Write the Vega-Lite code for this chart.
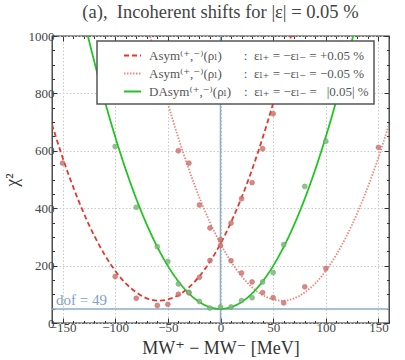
{
  "$schema": "https://vega.github.io/schema/vega-lite/v6.json",
  "width": 337,
  "height": 287,
  "autosize": "none",
  "padding": {"left": 52, "top": 36, "right": 16, "bottom": 37},
  "background": "white",
  "title": {"text": "(a),\u2002Incoherent shifts for |ε| = 0.05 %", "font": "Liberation Serif, DejaVu Serif, serif", "fontSize": 18.5, "fontWeight": "normal", "color": "#444", "anchor": "middle", "offset": 9},
  "config": {
    "font": "Liberation Serif, DejaVu Serif, serif",
    "view": {"stroke": "#333", "strokeWidth": 1.3},
    "legend": {"strokeWidth": 1.5}
  },
  "datasets": {
    "curves": [
      {"x": -160, "y": 692, "s": "A"}, {"x": -150, "y": 577, "s": "A"}, {"x": -140, "y": 475, "s": "A"}, {"x": -130, "y": 384, "s": "A"}, {"x": -120, "y": 305, "s": "A"}, {"x": -110, "y": 238, "s": "A"}, {"x": -100, "y": 182, "s": "A"}, {"x": -90, "y": 138, "s": "A"}, {"x": -80, "y": 107, "s": "A"}, {"x": -70, "y": 86, "s": "A"}, {"x": -60, "y": 78, "s": "A"}, {"x": -50, "y": 82, "s": "A"}, {"x": -40, "y": 97, "s": "A"}, {"x": -30, "y": 124, "s": "A"}, {"x": -20, "y": 163, "s": "A"}, {"x": -10, "y": 214, "s": "A"}, {"x": 0, "y": 276, "s": "A"}, {"x": 10, "y": 351, "s": "A"}, {"x": 20, "y": 437, "s": "A"}, {"x": 30, "y": 535, "s": "A"}, {"x": 40, "y": 645, "s": "A"}, {"x": 50, "y": 766, "s": "A"}, {"x": 60, "y": 900, "s": "A"}, {"x": 70, "y": 1045, "s": "A"}, {"x": 80, "y": 1202, "s": "A"},
      {"x": -80, "y": 1202, "s": "B"}, {"x": -70, "y": 1045, "s": "B"}, {"x": -60, "y": 900, "s": "B"}, {"x": -50, "y": 766, "s": "B"}, {"x": -40, "y": 645, "s": "B"}, {"x": -30, "y": 535, "s": "B"}, {"x": -20, "y": 437, "s": "B"}, {"x": -10, "y": 351, "s": "B"}, {"x": 0, "y": 276, "s": "B"}, {"x": 10, "y": 214, "s": "B"}, {"x": 20, "y": 163, "s": "B"}, {"x": 30, "y": 124, "s": "B"}, {"x": 40, "y": 97, "s": "B"}, {"x": 50, "y": 82, "s": "B"}, {"x": 60, "y": 78, "s": "B"}, {"x": 70, "y": 86, "s": "B"}, {"x": 80, "y": 107, "s": "B"}, {"x": 90, "y": 138, "s": "B"}, {"x": 100, "y": 182, "s": "B"}, {"x": 110, "y": 238, "s": "B"}, {"x": 120, "y": 305, "s": "B"}, {"x": 130, "y": 384, "s": "B"}, {"x": 140, "y": 475, "s": "B"}, {"x": 150, "y": 577, "s": "B"}, {"x": 160, "y": 692, "s": "B"},
      {"x": -140, "y": 1225, "s": "C"}, {"x": -130, "y": 1063, "s": "C"}, {"x": -120, "y": 913, "s": "C"}, {"x": -110, "y": 775, "s": "C"}, {"x": -100, "y": 649, "s": "C"}, {"x": -90, "y": 535, "s": "C"}, {"x": -80, "y": 433, "s": "C"}, {"x": -70, "y": 343, "s": "C"}, {"x": -60, "y": 265, "s": "C"}, {"x": -50, "y": 199, "s": "C"}, {"x": -40, "y": 145, "s": "C"}, {"x": -30, "y": 103, "s": "C"}, {"x": -20, "y": 73, "s": "C"}, {"x": -10, "y": 55, "s": "C"}, {"x": 0, "y": 49, "s": "C"}, {"x": 10, "y": 55, "s": "C"}, {"x": 20, "y": 73, "s": "C"}, {"x": 30, "y": 103, "s": "C"}, {"x": 40, "y": 145, "s": "C"}, {"x": 50, "y": 199, "s": "C"}, {"x": 60, "y": 265, "s": "C"}, {"x": 70, "y": 343, "s": "C"}, {"x": 80, "y": 433, "s": "C"}, {"x": 90, "y": 535, "s": "C"}, {"x": 100, "y": 649, "s": "C"}, {"x": 110, "y": 775, "s": "C"}, {"x": 120, "y": 913, "s": "C"}, {"x": 130, "y": 1063, "s": "C"}, {"x": 140, "y": 1225, "s": "C"}
    ],
    "points": [
      {"x": -150, "y": 557, "s": "A"}, {"x": -100, "y": 162, "s": "A"}, {"x": -80, "y": 86, "s": "A"}, {"x": -60, "y": 61, "s": "A"}, {"x": -50, "y": 65, "s": "A"}, {"x": -40, "y": 100, "s": "A"}, {"x": -30, "y": 105, "s": "A"}, {"x": -20, "y": 159, "s": "A"}, {"x": -10, "y": 218, "s": "A"}, {"x": 0, "y": 270, "s": "A"}, {"x": 10, "y": 348, "s": "A"}, {"x": 20, "y": 433, "s": "A"}, {"x": 30, "y": 489, "s": "A"}, {"x": 40, "y": 607, "s": "A"}, {"x": 50, "y": 729, "s": "A"},
      {"x": -40, "y": 600, "s": "B"}, {"x": -30, "y": 557, "s": "B"}, {"x": -20, "y": 411, "s": "B"}, {"x": -10, "y": 331, "s": "B"}, {"x": 0, "y": 290, "s": "B"}, {"x": 10, "y": 217, "s": "B"}, {"x": 20, "y": 174, "s": "B"}, {"x": 30, "y": 143, "s": "B"}, {"x": 40, "y": 106, "s": "B"}, {"x": 50, "y": 88, "s": "B"}, {"x": 60, "y": 70, "s": "B"}, {"x": 80, "y": 126, "s": "B"}, {"x": 100, "y": 190, "s": "B"}, {"x": 150, "y": 612, "s": "B"},
      {"x": -100, "y": 615, "s": "C"}, {"x": -80, "y": 403, "s": "C"}, {"x": -60, "y": 266, "s": "C"}, {"x": -50, "y": 214, "s": "C"}, {"x": -40, "y": 136, "s": "C"}, {"x": -30, "y": 107, "s": "C"}, {"x": -20, "y": 75, "s": "C"}, {"x": -10, "y": 52, "s": "C"}, {"x": 0, "y": 56, "s": "C"}, {"x": 10, "y": 56, "s": "C"}, {"x": 20, "y": 78, "s": "C"}, {"x": 30, "y": 88, "s": "C"}, {"x": 40, "y": 143, "s": "C"}, {"x": 50, "y": 176, "s": "C"}, {"x": 60, "y": 273, "s": "C"}, {"x": 80, "y": 476, "s": "C"}, {"x": 100, "y": 633, "s": "C"}
    ],
    "vline": [{"x": 0}],
    "hline": [{"y": 49, "x": -160, "label": "dof = 49"}]
  },
  "layer": [
    {
      "data": {"name": "vline"},
      "mark": {"type": "rule", "color": "#8aaccd", "strokeWidth": 1.5},
      "encoding": {"x": {"field": "x", "type": "quantitative", "axis": null, "scale": {"domain": [-160, 160], "nice": false}}}
    },
    {
      "data": {"name": "hline"},
      "mark": {"type": "rule", "color": "#8aaccd", "strokeWidth": 1.5},
      "encoding": {"y": {"field": "y", "type": "quantitative", "axis": null, "scale": {"domain": [0, 1000], "nice": false}}}
    },
    {
      "data": {"name": "hline"},
      "mark": {"type": "text", "color": "#7ea2c6", "fontSize": 15, "align": "left", "baseline": "bottom", "dx": 4, "dy": -1},
      "encoding": {
        "x": {"field": "x", "type": "quantitative", "axis": null},
        "y": {"field": "y", "type": "quantitative", "axis": null},
        "text": {"field": "label"}
      }
    },
    {
      "data": {"name": "curves"},
      "mark": {"type": "line", "clip": true, "interpolate": "natural", "strokeWidth": 1.8},
      "encoding": {
        "x": {
          "field": "x", "type": "quantitative",
          "axis": {
            "orient": "bottom",
            "values": [-160,-150,-140,-130,-120,-110,-100,-90,-80,-70,-60,-50,-40,-30,-20,-10,0,10,20,30,40,50,60,70,80,90,100,110,120,130,140,150,160],
            "format": "d",
            "labelExpr": "datum.value % 50 === 0 ? datum.label : ''",
            "labelOverlap": false, "labelFlush": false,
            "tickSize": {"condition": {"test": "datum.value % 50 === 0", "value": -5}, "value": -2.5},
            "tickColor": "#333",
            "domain": false,
            "grid": true, "gridColor": "#c8c8c8", "gridDash": [1.5, 2],
            "gridOpacity": {"condition": {"test": "datum.value % 50 === 0", "value": 1}, "value": 0},
            "labelFontSize": 13, "labelColor": "#444", "labelPadding": 3,
            "title": "MW⁺ − MW⁻ [MeV]", "titleFontSize": 18, "titleFontWeight": "normal", "titleColor": "#333", "titlePadding": 3
          }
        },
        "y": {
          "field": "y", "type": "quantitative",
          "axis": {
            "orient": "left",
            "values": [0,50,100,150,200,250,300,350,400,450,500,550,600,650,700,750,800,850,900,950,1000],
            "format": "d",
            "labelExpr": "datum.value % 200 === 0 ? datum.label : ''",
            "labelOverlap": false, "labelFlush": false,
            "tickSize": {"condition": {"test": "datum.value % 200 === 0", "value": -5}, "value": -2.5},
            "tickColor": "#333",
            "domain": false,
            "grid": true, "gridColor": "#c8c8c8", "gridDash": [1.5, 2],
            "gridOpacity": {"condition": {"test": "datum.value % 200 === 0", "value": 1}, "value": 0},
            "labelFontSize": 13, "labelColor": "#444", "labelPadding": 3,
            "title": "χ²", "titleFontSize": 18, "titleFontWeight": "normal", "titleColor": "#333", "titlePadding": 7
          }
        },
        "color": {
          "field": "s", "type": "nominal",
          "scale": {"domain": ["A", "B", "C"], "range": ["#e8362d", "#f2857c", "#22c422"]},
          "legend": {
            "orient": "none", "legendX": 45, "legendY": 5, "title": null,
            "fillColor": "white", "strokeColor": "#555", "padding": 5,
            "symbolType": "stroke", "symbolSize": 289, "symbolStrokeWidth": 2, "symbolOffset": 21,
            "labelFontSize": 13, "labelColor": "#555", "labelLimit": 500, "labelOffset": 7,
            "rowPadding": 1,
            "labelExpr": "datum.label == 'A' ? 'Asym⁽⁺,⁻⁾(ρₗ)\u2002\u2009\u2002\u2002:\u2002εₗ₊ = −εₗ₋ = +0.05 %\u2002\u2002\u2002\u2002\u2002\u2002\u2002\u2009\u2009' : datum.label == 'B' ? 'Asym⁽⁺,⁻⁾(ρₗ)\u2002\u2009\u2002\u2002:\u2002εₗ₊ = −εₗ₋ = −0.05 %\u2002\u2002\u2002\u2002\u2002\u2002\u2002\u2009\u2009' : 'DAsym⁽⁺,⁻⁾(ρₗ)\u2002\u2002:\u2002εₗ₊ = −εₗ₋ = \u2002|0.05| %\u2002\u2002\u2002\u2002\u2002\u2002\u2002\u2009\u2009'"
          }
        },
        "strokeDash": {
          "field": "s", "type": "nominal",
          "scale": {"domain": ["A", "B", "C"], "range": [[5, 3], [1.5, 1.5], [1, 0]]},
          "legend": {
            "orient": "none", "legendX": 45, "legendY": 5, "title": null
          }
        }
      }
    },
    {
      "data": {"name": "points"},
      "transform": [{"filter": "datum.s != 'C'"}],
      "mark": {"type": "circle", "size": 24, "color": "#d9736d", "opacity": 0.85, "stroke": "#a8605b", "strokeWidth": 0.6},
      "encoding": {
        "x": {
          "field": "x", "type": "quantitative",
          "axis": {
            "orient": "top",
            "values": [-160,-150,-140,-130,-120,-110,-100,-90,-80,-70,-60,-50,-40,-30,-20,-10,0,10,20,30,40,50,60,70,80,90,100,110,120,130,140,150,160],
            "labels": false, "domain": false, "grid": false, "title": null,
            "tickSize": {"condition": {"test": "datum.value % 50 === 0", "value": -5}, "value": -2.5},
            "tickColor": "#333"
          }
        },
        "y": {
          "field": "y", "type": "quantitative",
          "axis": {
            "orient": "right",
            "values": [0,50,100,150,200,250,300,350,400,450,500,550,600,650,700,750,800,850,900,950,1000],
            "labels": false, "domain": false, "grid": false, "title": null,
            "tickSize": {"condition": {"test": "datum.value % 200 === 0", "value": -5}, "value": -2.5},
            "tickColor": "#333"
          }
        }
      }
    },
    {
      "data": {"name": "points"},
      "transform": [{"filter": "datum.s == 'C'"}],
      "mark": {"type": "circle", "size": 24, "color": "#7dbb7a", "opacity": 0.85, "stroke": "#5e955c", "strokeWidth": 0.6},
      "encoding": {
        "x": {"field": "x", "type": "quantitative", "axis": null},
        "y": {"field": "y", "type": "quantitative", "axis": null}
      }
    }
  ],
  "resolve": {"axis": {"x": "independent", "y": "independent"}}
}
